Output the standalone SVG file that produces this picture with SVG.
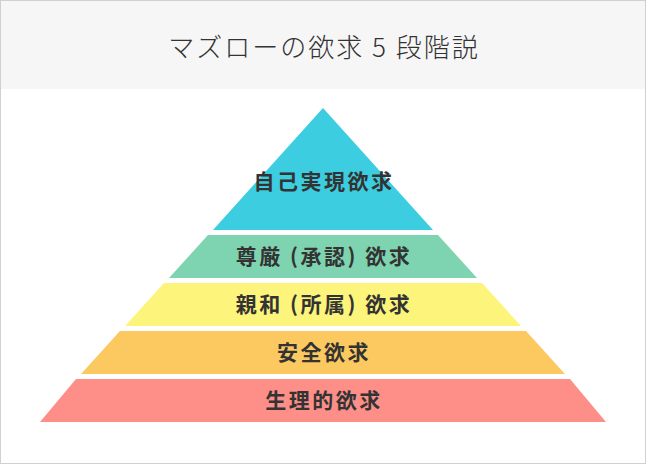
<svg xmlns="http://www.w3.org/2000/svg" width="646" height="464" viewBox="0 0 646 464">
<style>
.t{font-family:"Noto Sans CJK JP","Noto Sans",sans-serif;fill:#333;text-anchor:middle}
.l{font-size:21px;font-weight:bold;letter-spacing:2.5px}
</style>
<rect x="0.5" y="0.5" width="645" height="463" fill="#fff" stroke="#d0d0d0"/>
<rect x="1" y="1" width="644" height="88" fill="#f6f6f6"/>
<text class="t" x="324" y="57" font-size="26" font-weight="300" letter-spacing="2">マズローの欲求 5 段階説</text>
<g id="layer1"><polygon points="323,108 433,230 213,230" fill="#3ccde0"/><text class="t l" x="324" y="189">自己実現欲求</text></g>
<g id="layer2"><polygon points="208,235 438,235 477,278 169,278" fill="#7ed3b0"/><text class="t l" x="324" y="264">尊厳 (承認) 欲求</text></g>
<g id="layer3"><polygon points="164,283 482,283 521,326 125,326" fill="#fcf47b"/><text class="t l" x="324" y="312">親和 (所属) 欲求</text></g>
<g id="layer4"><polygon points="120,331 526,331 565,374 81,374" fill="#fcc860"/><text class="t l" x="324" y="360">安全欲求</text></g>
<g id="layer5"><polygon points="76,379 570,379 606,422 40,422" fill="#fd8f88"/><text class="t l" x="324" y="408">生理的欲求</text></g>
<g id="connectors"/>
</svg>
